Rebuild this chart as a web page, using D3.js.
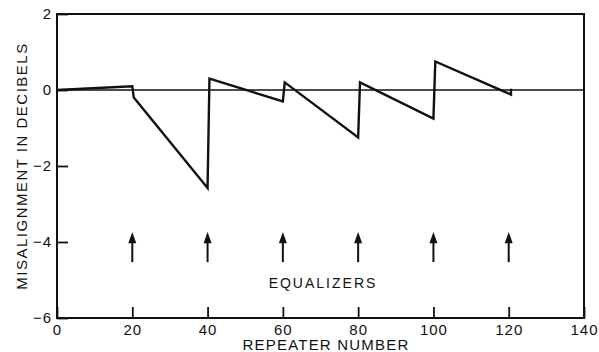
<!DOCTYPE html>
<html>
<head>
<meta charset="utf-8">
<script src="https://cdn.jsdelivr.net/npm/d3@7"></script>
<style>
  body { margin: 0; background: #fff; }
  text { font-family: "Liberation Sans", Arial, sans-serif; fill: #111; }
</style>
</head>
<body>
<div id="chart"></div>
<script>
// misalignment trace (repeater number, dB)
var repeater = [0, 20, 20.4, 40, 40.5, 60, 60.5, 80, 80.5, 100, 100.5, 120.6, 120.6];
var misalign = [0, 0.1, -0.2, -2.58, 0.3, -0.3, 0.2, -1.25, 0.2, -0.75, 0.75, -0.12, 0.03];
var equalizers = [20, 40, 60, 80, 100, 120];
var xTicks = [0, 20, 40, 60, 80, 100, 120, 140];
var yTicks = [-6, -4, -2, 0, 2];

var w = 599, h = 352;
var margin = { left: 57, right: 15, top: 14, bottom: 34 };

var svg = d3.select("#chart").append("svg")
  .attr("width", w)
  .attr("height", h);

var x = d3.scaleLinear().domain([0, 140]).range([margin.left, w - margin.right]);
var y = d3.scaleLinear().domain([-6, 2]).range([h - margin.bottom, margin.top]);

// frame
svg.append("rect")
  .attr("x", x(0)).attr("y", y(2))
  .attr("width", x(140) - x(0)).attr("height", y(-6) - y(2))
  .attr("fill", "none").attr("stroke", "#111").attr("stroke-width", 2);

// x axis, ticks point inward
var xAxis = svg.append("g")
  .attr("transform", "translate(0," + y(-6) + ")")
  .call(d3.axisBottom(x).tickValues(xTicks).tickSizeInner(-11).tickSizeOuter(0).tickPadding(6));
xAxis.select(".domain").remove();
xAxis.selectAll("line").attr("stroke", "#111").attr("stroke-width", 1.8);
xAxis.selectAll("text")
  .style("font-size", "15px")
  .style("letter-spacing", "1px")
  .style("font-family", "Liberation Sans, Arial, sans-serif")
  .attr("fill", "#111");

var yAxis = svg.append("g")
  .attr("transform", "translate(" + x(0) + ",0)")
  .call(d3.axisLeft(y).tickValues(yTicks).tickSizeInner(-11).tickSizeOuter(0).tickPadding(5)
    .tickFormat(function(d) { return d < 0 ? "\u2212" + Math.abs(d) : d; }));
yAxis.select(".domain").remove();
yAxis.selectAll("line").attr("stroke", "#111").attr("stroke-width", 1.8);
yAxis.selectAll("text")
  .style("font-size", "15px")
  .style("letter-spacing", "1px")
  .style("font-family", "Liberation Sans, Arial, sans-serif")
  .attr("fill", "#111");

// zero reference line
svg.append("line")
  .attr("x1", x(0)).attr("x2", x(140))
  .attr("y1", y(0)).attr("y2", y(0))
  .attr("stroke", "#111").attr("stroke-width", 1.6);

// trace
var line = d3.line()
  .x(function(d, i) { return x(repeater[i]); })
  .y(function(d) { return y(d); });
svg.append("path")
  .datum(misalign)
  .attr("d", line)
  .attr("fill", "none")
  .attr("stroke", "#111")
  .attr("stroke-width", 2.4)
  .attr("stroke-linejoin", "miter");

// equalizer arrows
var arrows = svg.append("g").selectAll("g").data(equalizers).enter().append("g");
arrows.append("line")
  .attr("x1", function(d) { return x(d); }).attr("x2", function(d) { return x(d); })
  .attr("y1", y(-4.53)).attr("y2", y(-4.0))
  .attr("stroke", "#111").attr("stroke-width", 2);
arrows.append("path")
  .attr("d", function(d) {
    var cx = x(d);
    return "M" + (cx - 4) + "," + y(-4.03) + "L" + cx + "," + y(-3.74) + "L" + (cx + 4) + "," + y(-4.03) + "Z";
  })
  .attr("fill", "#111");

svg.append("text")
  .attr("x", 323).attr("y", 288)
  .attr("text-anchor", "middle")
  .style("font-size", "14px")
  .style("letter-spacing", "2px")
  .text("EQUALIZERS");

svg.append("text")
  .attr("x", 326).attr("y", 350)
  .attr("text-anchor", "middle")
  .style("font-size", "15px")
  .style("letter-spacing", "1.2px")
  .text("REPEATER NUMBER");

svg.append("text")
  .attr("transform", "translate(27,166) rotate(-90)")
  .attr("text-anchor", "middle")
  .style("font-size", "15px")
  .style("letter-spacing", "1.5px")
  .text("MISALIGNMENT IN DECIBELS");
</script>
</body>
</html>
